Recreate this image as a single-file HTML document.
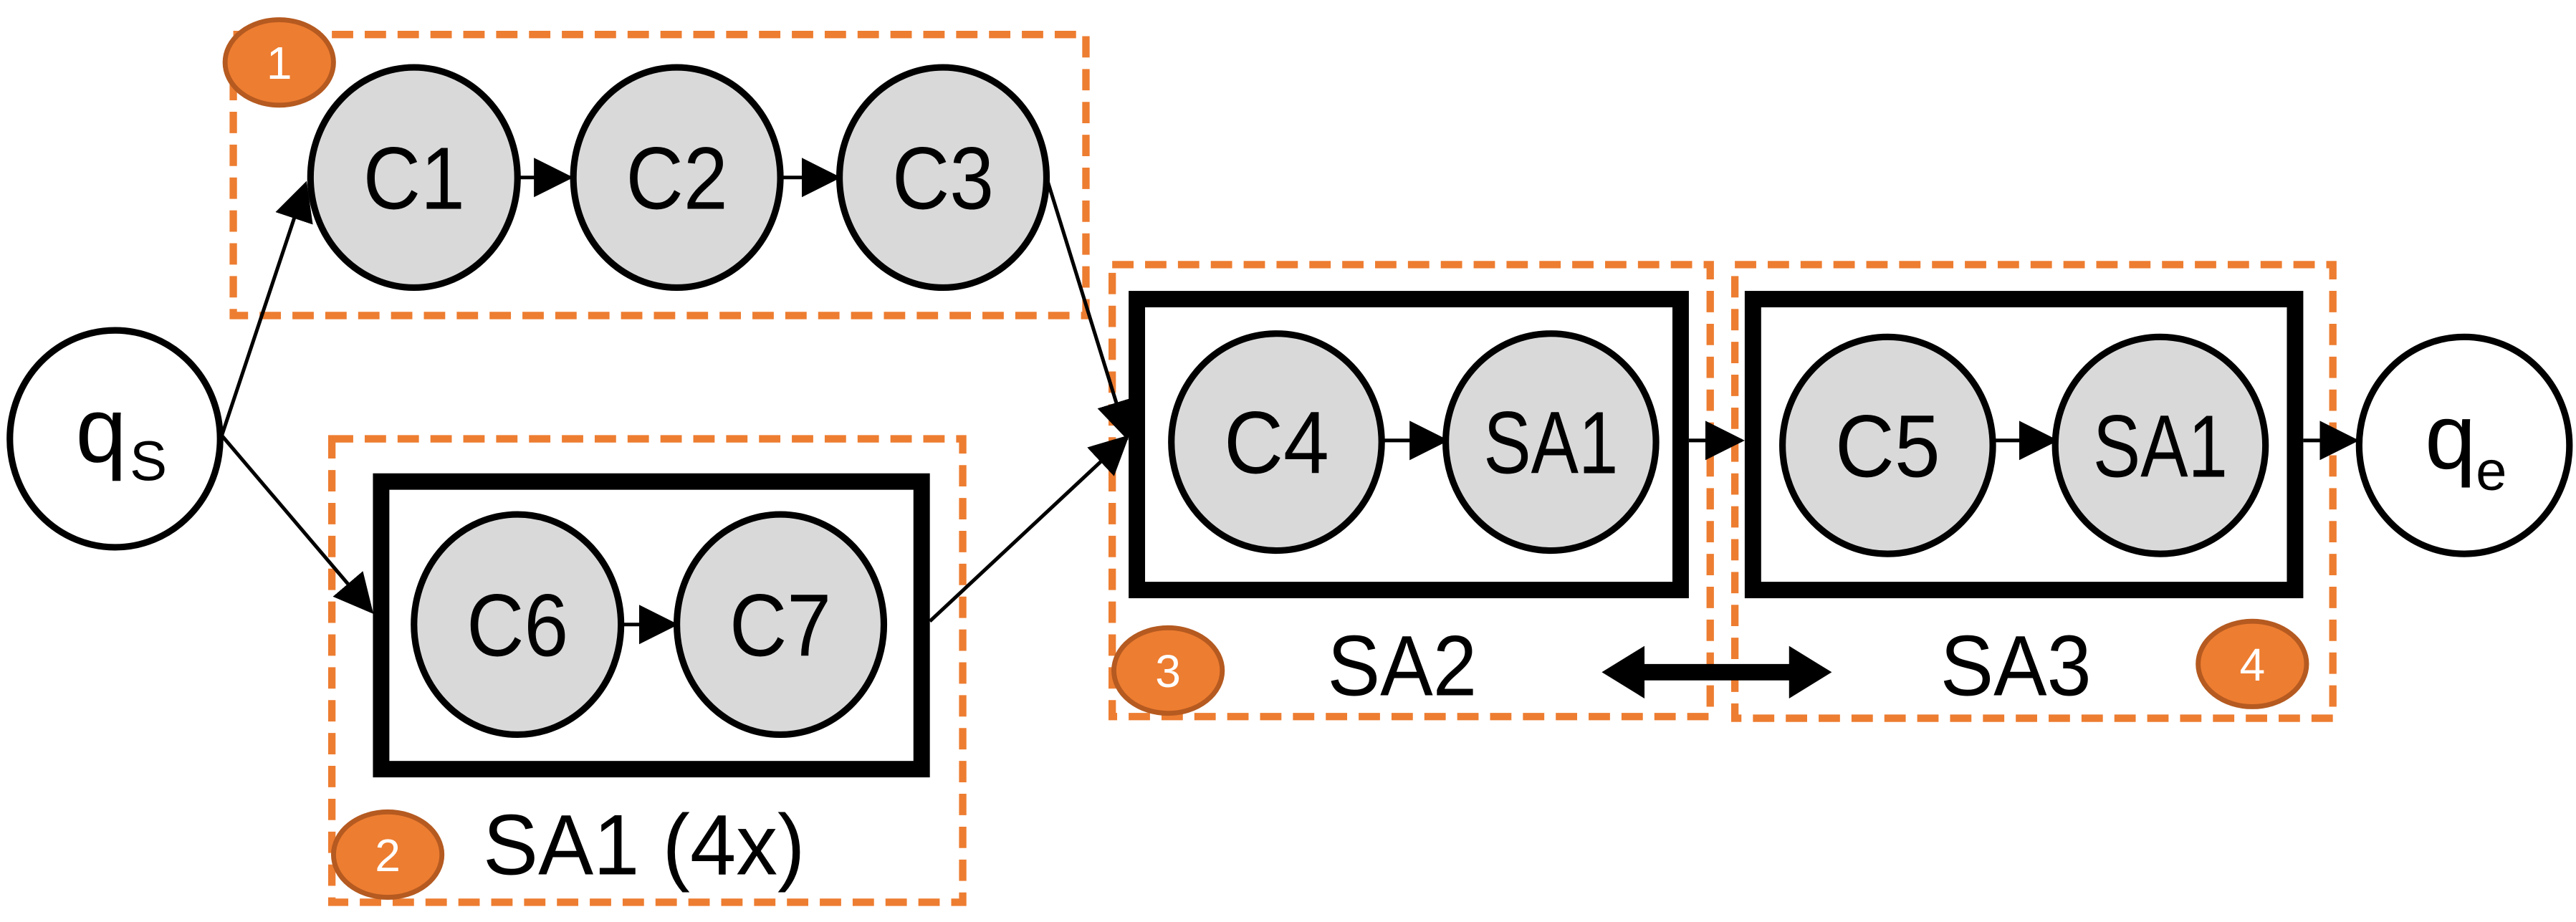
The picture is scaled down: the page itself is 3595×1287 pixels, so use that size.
<!DOCTYPE html>
<html><head><meta charset="utf-8"><style>
html,body{margin:0;padding:0;background:#fff;}
svg{display:block;}
text{font-family:"Liberation Sans",sans-serif;}
</style></head><body>
<svg width="3595" height="1287" viewBox="0 0 1568 561" preserveAspectRatio="none" xmlns="http://www.w3.org/2000/svg">
<defs>
<marker id="ah" markerWidth="24" markerHeight="24" refX="22" refY="12" orient="auto" markerUnits="userSpaceOnUse">
<path d="M0,0 L24,12 L0,24 Z" fill="#000"/>
</marker>
</defs>
<g fill="none" stroke="#ED7D31" stroke-width="4.5" stroke-dasharray="13,7">
<rect x="142" y="21" width="519" height="171"/>
<rect x="202" y="267" width="384" height="282"/>
<rect x="677" y="161" width="364" height="275"/>
<rect x="1056" y="161" width="364" height="276"/>
</g>
<g stroke="#000" stroke-width="2.2" fill="none">
<line x1="135" y1="265" x2="186" y2="112" marker-end="url(#ah)"/>
<line x1="135" y1="265" x2="226" y2="372" marker-end="url(#ah)"/>
<line x1="637" y1="108" x2="686" y2="266" marker-end="url(#ah)"/>
<line x1="566" y1="378" x2="686" y2="266" marker-end="url(#ah)"/>
<line x1="316" y1="108" x2="347" y2="108" marker-end="url(#ah)"/>
<line x1="476" y1="108" x2="510" y2="108" marker-end="url(#ah)"/>
<line x1="379" y1="380" x2="411" y2="380" marker-end="url(#ah)"/>
<line x1="841" y1="268" x2="880" y2="268" marker-end="url(#ah)"/>
<line x1="1213" y1="268" x2="1251" y2="268" marker-end="url(#ah)"/>
<line x1="1028" y1="268" x2="1060" y2="268" marker-end="url(#ah)"/>
<line x1="1402" y1="268" x2="1434" y2="268" marker-end="url(#ah)"/>
</g>
<g fill="none" stroke="#000" stroke-width="10">
<rect x="232" y="293" width="329" height="175"/>
<rect x="692" y="182" width="331" height="177"/>
<rect x="1067" y="182" width="330" height="177"/>
</g>
<g stroke="#000" stroke-width="4">
<ellipse cx="70" cy="267" rx="64" ry="66" fill="#fff"/>
<ellipse cx="252" cy="108" rx="63" ry="67" fill="#d9d9d9"/>
<ellipse cx="412" cy="108" rx="63" ry="67" fill="#d9d9d9"/>
<ellipse cx="574" cy="108" rx="63" ry="67" fill="#d9d9d9"/>
<ellipse cx="315" cy="380" rx="63" ry="67" fill="#d9d9d9"/>
<ellipse cx="475" cy="380" rx="63" ry="67" fill="#d9d9d9"/>
<ellipse cx="777" cy="269" rx="64" ry="66" fill="#d9d9d9"/>
<ellipse cx="944" cy="269" rx="64" ry="66" fill="#d9d9d9"/>
<ellipse cx="1149" cy="271" rx="64" ry="66" fill="#d9d9d9"/>
<ellipse cx="1315" cy="271" rx="64" ry="66" fill="#d9d9d9"/>
<ellipse cx="1500" cy="271" rx="64" ry="66" fill="#fff"/>
</g>
<g font-size="54" fill="#000" text-anchor="middle">
<text x="252" y="127" textLength="62" lengthAdjust="spacingAndGlyphs">C1</text>
<text x="412" y="127" textLength="62" lengthAdjust="spacingAndGlyphs">C2</text>
<text x="574" y="127" textLength="62" lengthAdjust="spacingAndGlyphs">C3</text>
<text x="315" y="399" textLength="62" lengthAdjust="spacingAndGlyphs">C6</text>
<text x="475" y="399" textLength="62" lengthAdjust="spacingAndGlyphs">C7</text>
<text x="777" y="288" textLength="64" lengthAdjust="spacingAndGlyphs">C4</text>
<text x="944" y="288" textLength="82" lengthAdjust="spacingAndGlyphs">SA1</text>
<text x="1149" y="290" textLength="64" lengthAdjust="spacingAndGlyphs">C5</text>
<text x="1315" y="290" textLength="82" lengthAdjust="spacingAndGlyphs">SA1</text>
</g>
<text x="46" y="281" font-size="56">q</text>
<text x="79" y="292" font-size="34">S</text>
<text x="1476" y="285" font-size="56">q</text>
<text x="1507" y="298" font-size="34">e</text>
<g font-size="52" fill="#000">
<text x="294" y="532" textLength="196" lengthAdjust="spacingAndGlyphs">SA1 (4x)</text>
<text x="808" y="423" textLength="91" lengthAdjust="spacingAndGlyphs">SA2</text>
<text x="1181" y="423" textLength="92" lengthAdjust="spacingAndGlyphs">SA3</text>
</g>
<path d="M975,409 L1001,393 L1001,404 L1089,404 L1089,393 L1115,409 L1089,425 L1089,414 L1001,414 L1001,425 Z" fill="#000"/>
<g fill="#ED7D31" stroke="#B55A20" stroke-width="3">
<ellipse cx="170" cy="38" rx="33" ry="26"/>
<ellipse cx="236" cy="520" rx="33" ry="26"/>
<ellipse cx="711" cy="408" rx="33" ry="26"/>
<ellipse cx="1371" cy="404" rx="33" ry="26"/>
</g>
<g font-size="28" fill="#fff" text-anchor="middle">
<text x="170" y="48">1</text>
<text x="236" y="530">2</text>
<text x="711" y="418">3</text>
<text x="1371" y="414">4</text>
</g>
</svg>
</body></html>
